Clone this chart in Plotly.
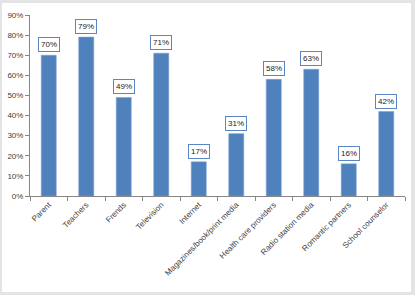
import plotly.graph_objects as go

categories = ["Parent", "Teachers", "Frends", "Television", "Internet",
              "Magazines/book/print media", "Health care providers",
              "Radio station media", "Romantic partners", "School counselor"]
values = [70, 79, 49, 71, 17, 31, 58, 63, 16, 42]
y_ticks = [0, 10, 20, 30, 40, 50, 60, 70, 80, 90]
y_tick_labels = [f"{v}%" for v in y_ticks]

W, H = 415, 295
L, R, T, B = 30, 10, 15, 99
pw, ph = W - L - R, H - T - B

fig = go.Figure()
fig.add_trace(go.Bar(
    x=categories, y=values,
    marker=dict(color="#4f81bd", line=dict(color="#7a9fd0", width=0.6)),
    width=0.4,
))

for c, v in zip(categories, values):
    fig.add_annotation(
        x=c, y=v, xref="x", yref="y", text=f"{v}%", showarrow=False,
        yanchor="bottom", yshift=3,
        font=dict(family="Liberation Sans, Arial", size=8, color="#222222"),
        bgcolor="white", bordercolor="#5b86c4", borderwidth=1, borderpad=2,
    )

def px_x(p):
    return (p - L) / pw

def px_y(p):
    return (H - B - p) / ph

fig.add_shape(type="rect", xref="paper", yref="paper",
              x0=px_x(2), x1=px_x(411), y0=px_y(292), y1=px_y(3),
              fillcolor="white", line=dict(width=0), layer="below")

fig.update_layout(
    width=W, height=H,
    margin=dict(l=L, r=R, t=T, b=B),
    paper_bgcolor="#e4e4e4",
    plot_bgcolor="rgba(0,0,0,0)",
    showlegend=False,
    bargap=0.6,
    font=dict(family="Liberation Sans, Arial", size=8, color="#404040"),
    xaxis=dict(
        type="category", tickangle=-45, tickson="boundaries",
        ticks="outside", ticklen=4, tickcolor="#868686",
        showline=True, linecolor="#868686", linewidth=1,
        showgrid=False, tickfont=dict(size=8, color="#404040"),
        automargin=False,
    ),
    yaxis=dict(
        range=[0, 90], tickvals=y_ticks, ticktext=y_tick_labels,
        ticks="outside", ticklen=4, tickcolor="#868686",
        showline=True, linecolor="#868686", linewidth=1,
        showgrid=False, zeroline=False,
        tickfont=dict(size=8, color="#404040"),
        automargin=False,
    ),
)

fig.write_html("out.html")
